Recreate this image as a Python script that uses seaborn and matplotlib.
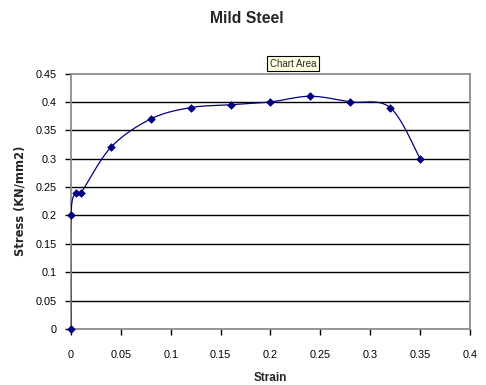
import numpy as np
import pandas as pd
import matplotlib
matplotlib.use("Agg")
import matplotlib.pyplot as plt
import seaborn as sns

# Stress–strain readings for the mild steel specimen
strain = [0.0, 0.0, 0.005, 0.01, 0.04, 0.08, 0.12, 0.16, 0.20, 0.24, 0.28, 0.32, 0.35]
stress = [0.0, 0.20, 0.24, 0.24, 0.32, 0.37, 0.39, 0.395, 0.40, 0.41, 0.40, 0.39, 0.30]

x_ticks = [0, 0.05, 0.1, 0.15, 0.2, 0.25, 0.3, 0.35, 0.4]
y_ticks = [0, 0.05, 0.1, 0.15, 0.2, 0.25, 0.3, 0.35, 0.4, 0.45]

LINE = "#000080"


def smooth_path(xs, ys, steps=24):
    """Catmull-Rom style smoothing used for spreadsheet 'smoothed line' charts."""
    p = np.column_stack([xs, ys]).astype(float)
    n = len(p)
    out = [p[0]]
    for i in range(n - 1):
        p0 = p[i - 1] if i > 0 else p[i]
        p1 = p[i]
        p2 = p[i + 1]
        p3 = p[i + 2] if i + 2 < n else p[i + 1]
        c1 = p1 + (p2 - p0) / 6.0
        c2 = p2 - (p3 - p1) / 6.0
        t = np.linspace(0, 1, steps)[1:, None]
        seg = ((1 - t) ** 3) * p1 + 3 * ((1 - t) ** 2) * t * c1 + 3 * (1 - t) * t ** 2 * c2 + t ** 3 * p2
        out.extend(seg)
    out = np.array(out)
    return out[:, 0], out[:, 1]


sns.set_theme(style="white")
plt.rcParams["font.family"] = ["Liberation Sans", "DejaVu Sans"]

fig = plt.figure(figsize=(4.86, 3.85), dpi=100)
ax = fig.add_axes([0.146, 0.1455, 0.821, 0.6635])

points = pd.DataFrame({"strain": strain, "stress": stress})
cx, cy = smooth_path(strain, stress)
curve = pd.DataFrame({"strain": cx, "stress": cy})

ax.set_xlim(0, 0.4)
ax.set_ylim(0, 0.45)
ax.set_xticks(x_ticks)
ax.set_yticks(y_ticks)
ax.set_xticklabels([f"{v:g}" for v in x_ticks])
ax.set_yticklabels([f"{v:g}" for v in y_ticks])

for v in y_ticks[1:-1]:
    ax.axhline(v, color="black", lw=1.0, zorder=1)

sns.lineplot(data=curve, x="strain", y="stress", sort=False, estimator=None,
             color=LINE, lw=0.9, ax=ax, zorder=3)
sns.scatterplot(data=points, x="strain", y="stress", marker="D", s=15,
                color=LINE, edgecolor=LINE, linewidth=0.5, ax=ax, zorder=4,
                clip_on=False)

for side in ["left", "right", "top", "bottom"]:
    ax.spines[side].set_visible(True)
    ax.spines[side].set_color("#8c8c8c")
    ax.spines[side].set_linewidth(1.3)

ax.tick_params(axis="both", which="major", direction="out", length=4, width=1,
               color="black", labelsize=7.8, labelcolor="black")
ax.tick_params(axis="x", bottom=True, pad=11)
ax.tick_params(axis="y", left=True, pad=6)

ax.set_xlabel("Strain", fontsize=8.5, fontweight="bold", labelpad=9)
ax.set_ylabel("Stress (KN/mm2)", fontsize=8.3, fontweight="bold", labelpad=7,
              family="DejaVu Sans")

fig.text(0.508, 0.953, "Mild Steel", ha="center", va="center",
         fontsize=11.3, fontweight="bold")

fig.text(0.603, 0.834, "Chart Area", ha="center", va="center", fontsize=7,
         bbox=dict(boxstyle="square,pad=0.25", facecolor="#FFFFE1",
                   edgecolor="black", linewidth=0.8))

fig.savefig("out.png", dpi=100, facecolor="white")
